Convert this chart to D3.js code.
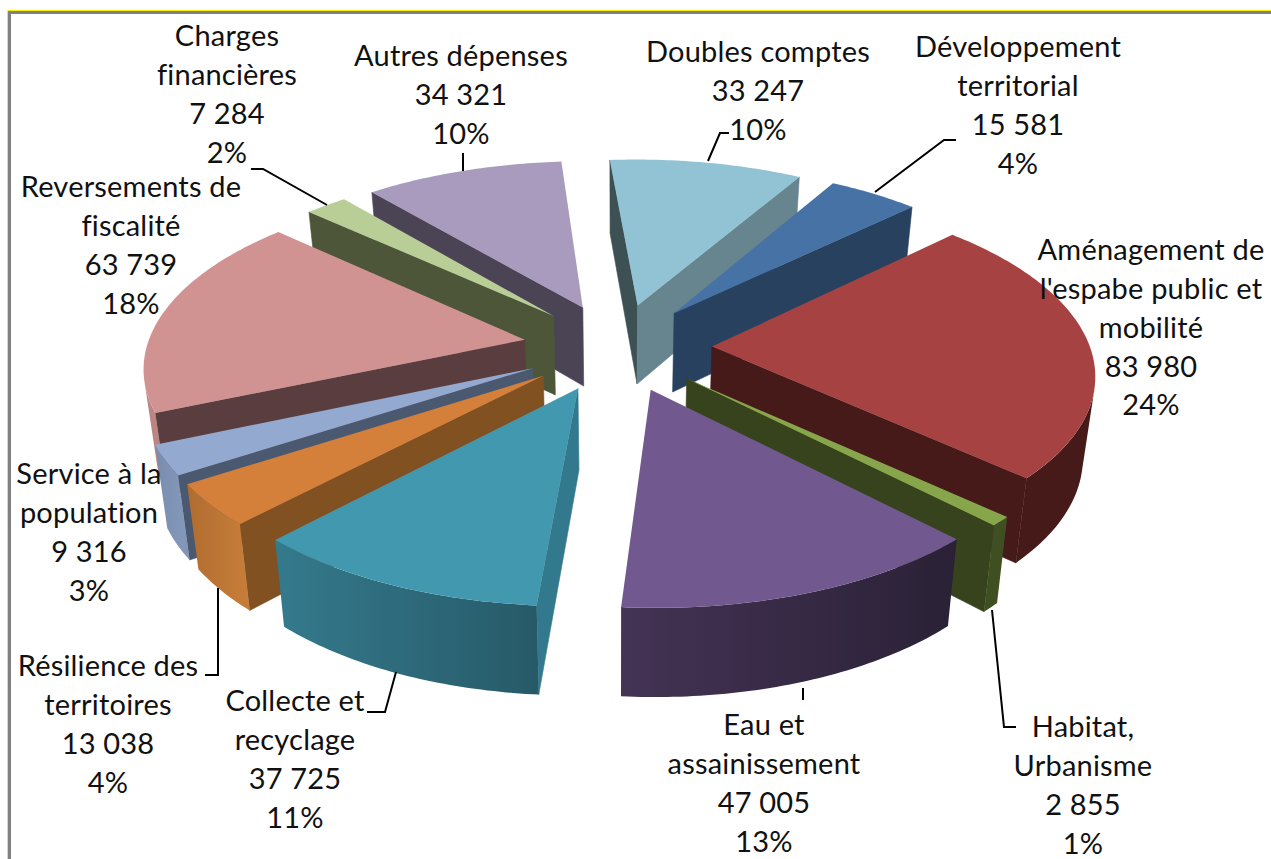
<!DOCTYPE html>
<html>
<head>
<meta charset="utf-8">
<script src="https://cdn.jsdelivr.net/npm/d3@7"></script>
<style>
html, body { margin: 0; padding: 0; background: #fff; }
svg { display: block; }
text { font-family: Lato, sans-serif; font-size: 29px; letter-spacing: 0.2px; fill: #111; text-anchor: middle; }
</style>
</head>
<body>
<script>
var WIDTH = 1271;
var HEIGHT = 859;

// chart values, clockwise from the first slice
var categories = [
  "Aménagement de\nl'espabe public et\nmobilité", "Habitat,\nUrbanisme", "Eau et\nassainissement",
  "Collecte et\nrecyclage", "Résilience des\nterritoires", "Service à la\npopulation",
  "Reversements de\nfiscalité", "Charges\nfinancières", "Autres dépenses",
  "Doubles comptes", "Développement\nterritorial"
];
var values = [83980, 2855, 47005, 37725, 13038, 9316, 63739, 7284, 34321, 33247, 15581];
var percents = ["24%", "1%", "13%", "11%", "4%", "3%", "18%", "2%", "10%", "10%", "4%"];

// face colours, same order as categories
var topColors = ["#a64342", "#87a64b", "#71588f", "#4198af", "#d47f3a", "#93a9cf", "#d19392", "#b9cd96", "#a99bbd", "#92c3d4", "#4672a6"];
var startWallColors = ["#451a19", "#36431c", "#2c2338", "#33798d", "#825122", "#4a5970", "#5a3d3f", "#4e563a", "#4a4455", "#3d5054", "#27415f"];
var endWallColors = ["#451a19", "#36431c", "#2c2338", "#33798d", "#825122", "#4a5970", "#5a3d3f", "#4e563a", "#4a4455", "#66858f", "#27415f"];
var rimFrom = ["#451a19", "#3f4f22", "#2a2136", "#275a68", "#c57c38", "#8196b8", "#bb8584", "#6a7550", "#675d73", "#66858f", "#27415f"];
var rimTo = ["#451a19", "#3f4f22", "#443355", "#347a8d", "#b06c30", "#7a8cad", "#bb8584", "#6a7550", "#675d73", "#66858f", "#27415f"];

// label layout: centre x and y of the first line, same order as categories
var labelX = [1151, 1083, 764, 295, 108, 89, 131, 227, 461, 758, 1018];
var labelY = [250, 727, 725, 701, 666, 474, 187, 36, 56, 52, 47];
var LINE_STEP = 38.8;

// leader lines, drawn under the labels
var leaders = [
  [[251, 169], [263, 169], [327, 205]],
  [[463, 153], [463, 171]],
  [[729, 133], [720, 133], [708, 161]],
  [[956, 140], [944, 140], [875, 192]],
  [[803, 688], [803, 700]],
  [[992, 610], [1004, 727], [1016, 727]],
  [[396, 672], [385, 712], [367, 712]],
  [[218, 588], [218, 675], [205, 675]]
];

// pie geometry
var FIRST_ANGLE = 46 * Math.PI / 180;
var EXPLODE = 0.25;      //radial offset of every slice, in radius units
var PERSPECTIVE = 0.135; //how fast things shrink going away from the viewer
var BASE_SCALE = 0.974;  //lower face is a bit further from the eye
var DEPTH = 80;          //thickness of the pie in pixels at the centre

var xScale = d3.scaleLinear().domain([-1, 1]).range([617.5 - 378, 617.5 + 378]);
var yScale = d3.scaleLinear().domain([-1, 1]).range([347 + 176, 347 - 176]);

var nbsp = d3.formatLocale({decimal: ",", thousands: " ", grouping: [3]}).format(",d");

var svg = d3.select("body").append("svg")
  .attr("width", WIDTH)
  .attr("height", HEIGHT);
var defs = svg.append("defs");

// frame of the pasted picture
svg.append("path").attr("d", "M1271,10.5H7.5V859").attr("fill", "none").attr("stroke", "#f5f000").attr("stroke-width", 1);
svg.append("path").attr("d", "M1271,12.5H9.5V859").attr("fill", "none").attr("stroke", "#808080").attr("stroke-width", 3);

function project(X, Y, lower) {
  var w = 1 + PERSPECTIVE * Y;
  var sx = xScale(X / w);
  var sy = yScale(Y / w);
  if (!lower) return [sx, sy];
  return [
    xScale(0) + (sx - xScale(0)) * BASE_SCALE,
    yScale(0) + (sy - yScale(0)) * BASE_SCALE + DEPTH / w
  ];
}

var pie = d3.pie().sort(null).startAngle(FIRST_ANGLE).endAngle(FIRST_ANGLE + 2 * Math.PI);
var slices = pie(values).map(function(d, i) {
  d.i = i;
  d.mid = (d.startAngle + d.endAngle) / 2;
  d.ox = EXPLODE * Math.sin(d.mid);
  d.oy = EXPLODE * Math.cos(d.mid);
  return d;
});

function rimPoint(d, a, lower) {
  return project(d.ox + Math.sin(a), d.oy + Math.cos(a), lower);
}
function apexPoint(d, lower) {
  return project(d.ox, d.oy, lower);
}

var line = d3.line();

// back to front so nearer slices paint over further ones
slices.sort(function(a, b) { return d3.descending(Math.cos(a.mid), Math.cos(b.mid)); });

slices.forEach(function(d) {
  var g = svg.append("g");
  var steps = Math.max(4, Math.ceil((d.endAngle - d.startAngle) / 0.015));
  var angles = d3.range(steps + 1).map(function(k) {
    return d.startAngle + (d.endAngle - d.startAngle) * k / steps;
  });

  function quad(poly, color) {
    g.append("path")
      .attr("d", line(poly) + "Z")
      .attr("fill", color)
      .attr("stroke", color)
      .attr("stroke-width", 0.6);
  }

  // the two flat cut faces
  var startWall = [apexPoint(d), rimPoint(d, d.startAngle), rimPoint(d, d.startAngle, true), apexPoint(d, true)];
  var endWall = [apexPoint(d), rimPoint(d, d.endAngle), rimPoint(d, d.endAngle, true), apexPoint(d, true)];
  if (d3.polygonArea(startWall) > 0) quad(startWall, startWallColors[d.i]);
  if (d3.polygonArea(endWall) < 0) quad(endWall, endWallColors[d.i]);

  // outer rim: only the part of the arc that faces the viewer, one path with a gradient
  var seen = [];
  for (var k = 0; k < steps; k++) {
    var strip = [rimPoint(d, angles[k]), rimPoint(d, angles[k + 1]), rimPoint(d, angles[k + 1], true), rimPoint(d, angles[k], true)];
    if (d3.polygonArea(strip) > 0) {
      if (!seen.length) seen.push(angles[k]);
      seen.push(angles[k + 1]);
    }
  }
  if (seen.length) {
    var upper = seen.map(function(a) { return rimPoint(d, a); });
    var lower = seen.map(function(a) { return rimPoint(d, a, true); }).reverse();
    var grad = defs.append("linearGradient")
      .attr("id", "rim" + d.i)
      .attr("gradientUnits", "userSpaceOnUse")
      .attr("x1", upper[0][0]).attr("y1", 0)
      .attr("x2", upper[upper.length - 1][0]).attr("y2", 0);
    grad.append("stop").attr("offset", 0).attr("stop-color", rimFrom[d.i]);
    grad.append("stop").attr("offset", 1).attr("stop-color", rimTo[d.i]);
    g.append("path")
      .attr("d", line(upper.concat(lower)) + "Z")
      .attr("fill", "url(#rim" + d.i + ")");
  }

  // top face
  var topFace = [apexPoint(d)].concat(angles.map(function(a) { return rimPoint(d, a); }));
  g.append("path")
    .attr("d", line(topFace) + "Z")
    .attr("fill", topColors[d.i]);
});

svg.append("g").selectAll("path")
  .data(leaders)
  .enter().append("path")
  .attr("d", function(d) { return line(d); })
  .attr("fill", "none")
  .attr("stroke", "#000")
  .attr("stroke-width", 2);

// labels: name lines, value, share
categories.forEach(function(name, i) {
  var rows = name.split("\n").concat([nbsp(values[i]), percents[i]]);
  svg.append("g").selectAll("text")
    .data(rows)
    .enter().append("text")
    .attr("x", labelX[i])
    .attr("y", function(d, k) { return labelY[i] + k * LINE_STEP; })
    .attr("dy", "0.35em")
    .text(function(d) { return d; });
});
</script>
</body>
</html>
